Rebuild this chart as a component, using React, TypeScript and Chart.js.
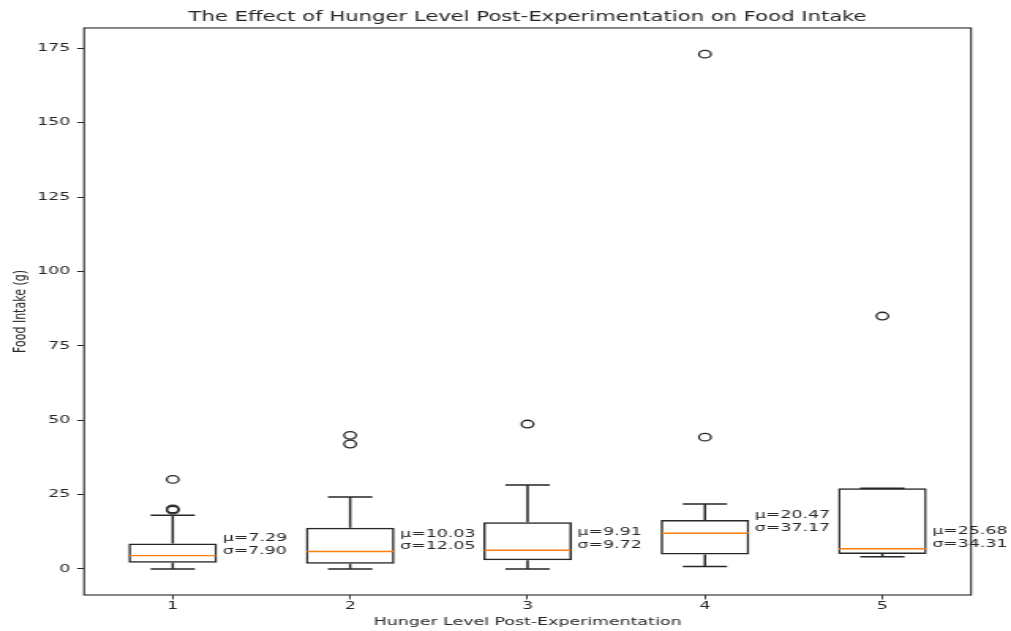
import { useEffect, useRef } from 'react';
import { Chart, registerables } from 'chart.js';

Chart.register(...registerables);

// ---- data ----
const categories = ['1', '2', '3', '4', '5'];
const q1Values = [2.1, 1.8, 2.9, 4.9, 5.0];
const medianValues = [4.5, 5.9, 6.3, 12.0, 6.8];
const q3Values = [8.6, 13.9, 15.7, 16.5, 27.1];
const whiskerLow = [0, 0, 0, 0.8, 4.1];
const whiskerHigh = [18.1, 24.2, 28.2, 21.8, 27.1];
const outliers1 = [19.8, 20.2, 30.1];
const outliers2 = [42.0, 44.9];
const outliers3 = [48.7];
const outliers4 = [44.3, 173.0];
const outliers5 = [85.0];
const outlierGroups = [outliers1, outliers2, outliers3, outliers4, outliers5];
const meanValues = [7.29, 10.03, 9.91, 20.47, 25.68];
const stdValues = [7.9, 12.05, 9.72, 37.17, 34.31];
const yTicks = [0, 25, 50, 75, 100, 125, 150, 175];

const chartTitle = 'The Effect of Hunger Level Post-Experimentation on Food Intake';
const xTitle = 'Hunger Level Post-Experimentation';
const yTitle = 'Food Intake (g)';

// ---- styling ----
const INK = '#262626';
const MEDIAN = '#ff7f0e';
const FAMILY = "'DejaVu Sans', 'Liberation Sans', sans-serif";
const CANVAS_W = 640;
const CANVAS_H = 631;
const SX = 1011 / CANVAS_W;

const boxPlugin = {
  id: 'boxExtras',
  beforeDatasetsDraw(chart: any) {
    const { ctx, scales } = chart;
    const x = scales.x;
    const y = scales.y;
    const unit = x.getPixelForValue(1) - x.getPixelForValue(0);
    const capHalf = unit * 0.125;
    ctx.save();
    ctx.strokeStyle = INK;
    ctx.lineWidth = 1.5;
    categories.forEach((_, i) => {
      const px = x.getPixelForValue(i);
      const yq1 = y.getPixelForValue(q1Values[i]);
      const yq3 = y.getPixelForValue(q3Values[i]);
      const yl = y.getPixelForValue(whiskerLow[i]);
      const yh = y.getPixelForValue(whiskerHigh[i]);
      ctx.beginPath();
      ctx.moveTo(px, yq1);
      ctx.lineTo(px, yl);
      ctx.moveTo(px, yq3);
      ctx.lineTo(px, yh);
      ctx.moveTo(px - capHalf, yl);
      ctx.lineTo(px + capHalf, yl);
      ctx.moveTo(px - capHalf, yh);
      ctx.lineTo(px + capHalf, yh);
      ctx.stroke();
    });
    ctx.restore();
  },
  afterDatasetsDraw(chart: any) {
    const { ctx, scales, chartArea } = chart;
    const x = scales.x;
    const y = scales.y;
    const unit = x.getPixelForValue(1) - x.getPixelForValue(0);
    const half = unit * 0.25;
    ctx.save();
    // medians
    ctx.strokeStyle = MEDIAN;
    ctx.lineWidth = 1.4;
    categories.forEach((_, i) => {
      const px = x.getPixelForValue(i);
      const ym = y.getPixelForValue(medianValues[i]);
      ctx.beginPath();
      ctx.moveTo(px - half + 0.7, ym);
      ctx.lineTo(px + half - 0.7, ym);
      ctx.stroke();
    });
    // annotations
    ctx.fillStyle = INK;
    ctx.font = `11px ${FAMILY}`;
    ctx.textAlign = 'left';
    ctx.textBaseline = 'alphabetic';
    categories.forEach((_, i) => {
      const px = x.getPixelForValue(i) + half + 3.5;
      const ym = y.getPixelForValue(medianValues[i]);
      const base = ym - 2;
      ctx.fillText(`σ=${stdValues[i].toFixed(2)}`, px, base);
      ctx.fillText(`μ=${meanValues[i].toFixed(2)}`, px, base - 12.8);
    });
    // frame
    ctx.strokeStyle = INK;
    ctx.lineWidth = 1.1;
    ctx.strokeRect(chartArea.left, chartArea.top, chartArea.right - chartArea.left, chartArea.bottom - chartArea.top);
    ctx.restore();
  },
};

export default function App() {
  const ref = useRef<HTMLCanvasElement | null>(null);

  useEffect(() => {
    document.body.style.margin = '0';
    document.body.style.background = '#ffffff';
    const canvas = ref.current;
    if (!canvas) return;
    Chart.defaults.font.family = FAMILY;
    Chart.defaults.color = INK;

    const outlierPoints = outlierGroups.flatMap((g, i) => g.map((v) => ({ x: categories[i], y: v })));

    const chart = new Chart(canvas, {
      type: 'bar',
      data: {
        labels: categories,
        datasets: [
          {
            type: 'bar',
            label: 'box',
            data: categories.map((_, i) => [q1Values[i], q3Values[i]]) as any,
            backgroundColor: 'rgba(0,0,0,0)',
            borderColor: INK,
            borderWidth: 1.5,
            borderSkipped: false,
            barPercentage: 0.5,
            categoryPercentage: 1,
          } as any,
          {
            type: 'line',
            label: 'outliers',
            data: outlierPoints as any,
            showLine: false,
            pointStyle: 'circle',
            pointRadius: 3.8,
            pointHoverRadius: 3.8,
            pointBorderWidth: 1.3,
            pointBorderColor: INK,
            pointBackgroundColor: 'rgba(0,0,0,0)',
          } as any,
        ],
      },
      options: {
        responsive: false,
        animation: false,
        devicePixelRatio: 1,
        events: [],
        layout: { padding: { left: 0, right: 25.3, top: 0, bottom: 0 } },
        plugins: {
          legend: { display: false },
          tooltip: { enabled: false },
          title: {
            display: true,
            fullSize: false,
            text: chartTitle,
            color: INK,
            font: { size: 13.4, family: FAMILY, weight: 'normal' },
            padding: { top: 9, bottom: 2.9 },
          },
        },
        scales: {
          x: {
            type: 'category',
            offset: true,
            grid: {
              display: true,
              offset: false,
              drawOnChartArea: false,
              drawTicks: true,
              tickLength: 4.4,
              tickColor: INK,
              tickWidth: 0.9,
            },
            border: { display: false },
            ticks: { color: INK, font: { size: 11 }, padding: 0, maxRotation: 0, autoSkip: false },
            title: {
              display: true,
              text: xTitle,
              color: INK,
              font: { size: 11 },
              padding: { top: 0, bottom: 1.9 },
            },
            afterFit: (s: any) => {
              s.height = 36;
            },
          },
          y: {
            type: 'linear',
            min: -8.74,
            max: 181.8,
            afterBuildTicks: (s: any) => {
              s.ticks = yTicks.map((v) => ({ value: v }));
            },
            grid: {
              display: true,
              drawOnChartArea: false,
              drawTicks: true,
              tickLength: 4.4,
              tickColor: INK,
              tickWidth: 1,
            },
            border: { display: false },
            ticks: { color: INK, font: { size: 11 }, padding: 4.4 },
            title: {
              display: true,
              text: yTitle,
              color: INK,
              font: { size: 11 },
              padding: { top: 6.1, bottom: 0 },
            },
            afterFit: (s: any) => {
              s.width = 53.2;
            },
          },
        },
      } as any,
      plugins: [boxPlugin],
    });

    return () => {
      chart.destroy();
    };
  }, []);

  return (
    <div style={{ width: 1011, height: 631, overflow: 'hidden', background: '#fff' }}>
      <canvas
        ref={ref}
        width={CANVAS_W}
        height={CANVAS_H}
        style={{ display: 'block', transform: `scaleX(${SX})`, transformOrigin: '0 0' }}
      />
    </div>
  );
}
